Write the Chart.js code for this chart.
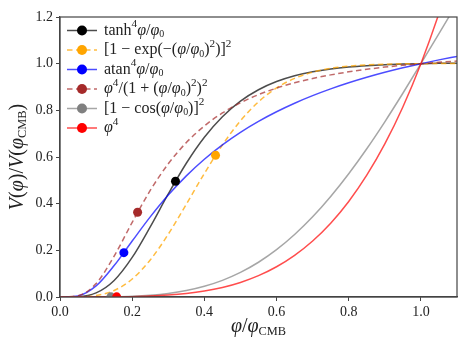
<!DOCTYPE html>
<html>
<head>
<meta charset="utf-8">
<script src="https://cdn.jsdelivr.net/npm/chart.js@4/dist/chart.umd.min.js"></script>
<style>
  body { margin: 0; background: #fff; }
</style>
</head>
<body>
<canvas id="pot" width="471" height="353"></canvas>
<script>
// phi / phi_CMB
const xs = [0, 0.05, 0.1, 0.15, 0.2, 0.25, 0.3, 0.35, 0.4, 0.45, 0.5, 0.55,
  0.6, 0.65, 0.7, 0.75, 0.8, 0.85, 0.9, 0.95, 1.0, 1.05, 1.1];

// V(phi)/V(phi_CMB)
const tanhV = [0, 0.0012, 0.0174, 0.0708, 0.1696, 0.3007, 0.4417, 0.5732, 0.6846, 0.7728, 0.8395, 0.8883,
  0.9234, 0.9482, 0.9655, 0.9775, 0.9858, 0.9915, 0.9955, 0.9982, 1.0, 1.0013, 1.0021];
const expV = [0, 0.0004, 0.0061, 0.0279, 0.0770, 0.1586, 0.2691, 0.3975, 0.5294, 0.6515, 0.7552, 0.8365,
  0.8960, 0.9369, 0.9636, 0.9800, 0.9896, 0.9950, 0.9978, 0.9993, 1.0, 1.0003, 1.0005];
const atanV = [0, 0.0048, 0.0474, 0.1346, 0.2398, 0.3433, 0.4370, 0.5191, 0.5904, 0.6522, 0.7059, 0.7528,
  0.7940, 0.8305, 0.8629, 0.8919, 0.9179, 0.9414, 0.9628, 0.9822, 1.0, 1.0163, 1.0313];
const ratioV = [0, 0.0053, 0.0576, 0.1750, 0.3199, 0.4565, 0.5708, 0.6618, 0.7330, 0.7887, 0.8325, 0.8673,
  0.8952, 0.9179, 0.9366, 0.9520, 0.9649, 0.9759, 0.9852, 0.9931, 1.0, 1.0060, 1.0112];
const cosV = [0, 0.0000, 0.0002, 0.0010, 0.0031, 0.0075, 0.0152, 0.0276, 0.0459, 0.0714, 0.1054, 0.1489,
  0.2027, 0.2676, 0.3435, 0.4306, 0.5282, 0.6354, 0.7509, 0.8732, 1.0, 1.1292, 1.2582];
const quartV = [0, 0.0000, 0.0001, 0.0005, 0.0016, 0.0039, 0.0081, 0.0150, 0.0256, 0.0410, 0.0625, 0.0915,
  0.1296, 0.1785, 0.2401, 0.3164, 0.4096, 0.5220, 0.6561, 0.8145, 1.0, 1.2155, 1.4641];

// the big dots on each curve
const dotX = [0.32, 0.431, 0.177, 0.215, 0.141, 0.157];
const dotY = [0.496, 0.607, 0.19, 0.363, 0.0008, 0.0006];

const yTicks = [0, 0.2, 0.4, 0.6, 0.8, 1.0, 1.2];

// legend text: n normal, i italic, u superscript, d subscript
const names = [
  [['tanh','n'],['4','u'],['φ','i'],['/','n'],['φ','i'],['0','d']],
  [['[1 − exp(−(','n'],['φ','i'],['/','n'],['φ','i'],['0','d'],[')','n'],['2','u'],[')]','n'],['2','u']],
  [['atan','n'],['4','u'],['φ','i'],['/','n'],['φ','i'],['0','d']],
  [['φ','i'],['4','u'],['/(1 + (','n'],['φ','i'],['/','n'],['φ','i'],['0','d'],[')','n'],['2','u'],[')','n'],['2','u']],
  [['[1 − cos(','n'],['φ','i'],['/','n'],['φ','i'],['0','d'],[')]','n'],['2','u']],
  [['φ','i'],['4','u']]
];

const lineCol = ['rgba(0,0,0,0.7)', 'rgba(255,165,0,0.75)', 'rgba(0,0,255,0.7)',
  'rgba(165,42,42,0.7)', 'rgba(128,128,128,0.7)', 'rgba(255,0,0,0.7)'];
const dotCol = ['#000000', '#ffa500', '#0000ff', '#a52a2a', '#808080', '#ff0000'];
const dashed = [false, true, false, true, false, false];

const serif = '"Liberation Serif", "DejaVu Serif", serif';

function drawRich(ctx, segs, x, y, size, align) {
  const parts = segs.map(([t, s]) => {
    let sz = size, dy = 0, style = '';
    if (s == 'i') style = 'italic ';
    if (s == 'u') { sz = size * 0.7; dy = -size * 0.38; }
    if (s == 'd') { sz = size * 0.62; dy = size * 0.25; }
    ctx.font = `${style}${sz}px ${serif}`;
    return { t, font: ctx.font, dy, w: ctx.measureText(t).width };
  });
  let total = 0;
  parts.forEach(p => total += p.w);
  let cx = align == 'center' ? x - total / 2 : x;
  ctx.textAlign = 'left';
  ctx.textBaseline = 'middle';
  parts.forEach(p => {
    ctx.font = p.font;
    ctx.fillText(p.t, cx, y + p.dy);
    cx += p.w;
  });
}

const series = [tanhV, expV, atanV, ratioV, cosV, quartV];
const datasets = [];
series.forEach((vals, k) => {
  datasets.push({
    data: xs.map((x, i) => ({ x: x, y: vals[i] })),
    borderColor: lineCol[k],
    borderWidth: 1.5,
    borderDash: dashed[k] ? [5.5, 3.5] : [],
    pointRadius: 0,
    cubicInterpolationMode: 'monotone',
    clip: 0,
    order: 20 - k
  });
  datasets.push({
    data: [{ x: dotX[k], y: dotY[k] }],
    showLine: false,
    pointRadius: 4.5,
    pointBorderWidth: 0,
    pointBackgroundColor: dotCol[k],
    clip: 0,
    order: -k
  });
});

const extras = {
  id: 'extras',
  afterDatasetsDraw(chart) {
    const ctx = chart.ctx, a = chart.chartArea;
    ctx.save();
    ctx.strokeStyle = '#444';
    ctx.lineWidth = 1.2;
    ctx.strokeRect(a.left, a.top, a.right - a.left, a.bottom - a.top);
    ctx.restore();
  },
  afterDraw(chart) {
    const ctx = chart.ctx, a = chart.chartArea;
    ctx.save();
    ctx.fillStyle = '#222';
    // legend
    names.forEach((segs, k) => {
      const y = 30.5 + k * 19.5;
      ctx.strokeStyle = lineCol[k];
      ctx.lineWidth = 1.5;
      ctx.setLineDash(dashed[k] ? [5.5, 3.5] : []);
      ctx.beginPath();
      ctx.moveTo(67, y);
      ctx.lineTo(97, y);
      ctx.stroke();
      ctx.setLineDash([]);
      ctx.fillStyle = dotCol[k];
      ctx.beginPath();
      ctx.arc(82, y, 5, 0, Math.PI * 2);
      ctx.fill();
      ctx.fillStyle = '#222';
      drawRich(ctx, segs, 104, y, 16, 'left');
    });
    // axis titles
    drawRich(ctx, [['φ','i'],['/','n'],['φ','i'],['CMB','d']], (a.left + a.right) / 2, 327, 20, 'center');
    ctx.translate(18, (a.top + a.bottom) / 2);
    ctx.rotate(-Math.PI / 2);
    drawRich(ctx, [['V','i'],['(','n'],['φ','i'],[')/','n'],['V','i'],['(','n'],['φ','i'],['CMB','d'],[')','n']], 0, 0, 20, 'center');
    ctx.restore();
  }
};

const tickFont = { family: serif, size: 14 };

new Chart(document.getElementById('pot'), {
  type: 'line',
  data: { datasets: datasets },
  options: {
    responsive: false,
    animation: false,
    devicePixelRatio: 1,
    layout: { padding: { top: 17, right: 14, left: 0, bottom: 0 } },
    plugins: { legend: { display: false }, tooltip: { enabled: false } },
    scales: {
      x: {
        type: 'linear', min: 0, max: 1.1,
        ticks: { stepSize: 0.2, includeBounds: false, font: tickFont, color: '#222', padding: 3,
          callback: v => v.toFixed(1) },
        grid: { drawOnChartArea: false, tickLength: 4, color: '#444' },
        border: { color: '#444', width: 1.2 },
        afterFit: s => { s.height = 56; }
      },
      y: {
        type: 'linear', min: 0, max: 1.2,
        afterBuildTicks: s => { s.ticks = yTicks.map(v => ({ value: v })); },
        ticks: { font: tickFont, color: '#222', padding: 3, callback: v => v.toFixed(1) },
        grid: { drawOnChartArea: false, tickLength: 4, color: '#444' },
        border: { color: '#444', width: 1.2 },
        afterFit: s => { s.width = 60; }
      }
    }
  },
  plugins: [extras]
});
</script>
</body>
</html>
